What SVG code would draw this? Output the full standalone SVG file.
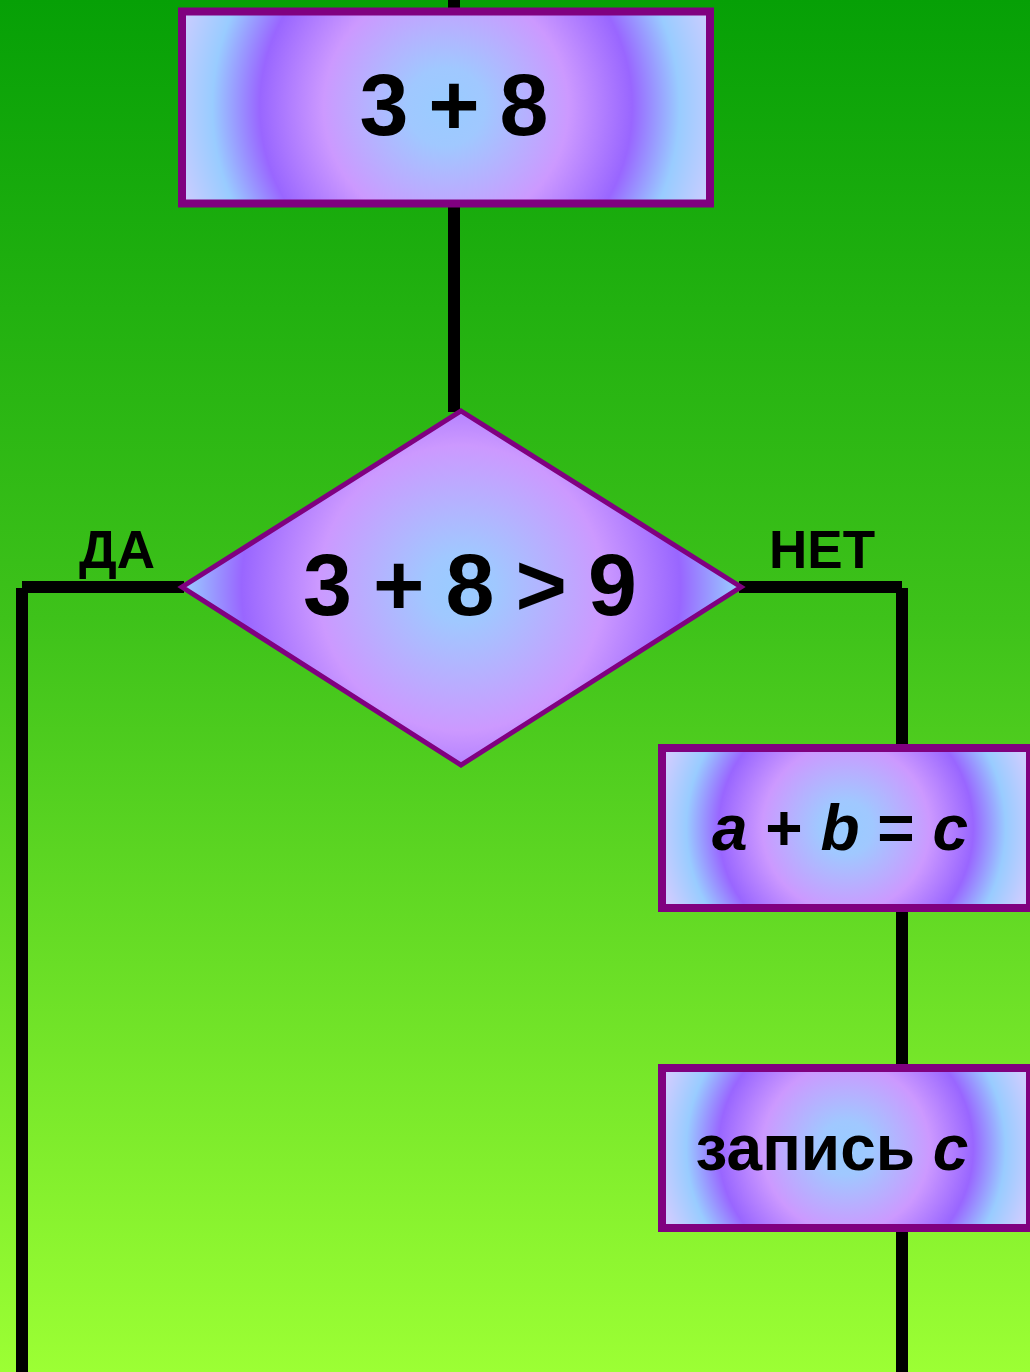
<svg xmlns="http://www.w3.org/2000/svg" xmlns:xlink="http://www.w3.org/1999/xlink" width="1030" height="1372" viewBox="0 0 1030 1372">
  <style>
    .node { stroke: #800080; }
    .box { stroke-width: 8; }
    .rhomb { stroke-width: 5; }
    .wire { stroke: #000; stroke-width: 12; fill: none; }
    .lbl { font-family: "Liberation Sans", Arial, sans-serif; font-weight: bold; fill: #000; text-anchor: middle; }
    .big { font-size: 88px; }
    .mid { font-size: 64px; }
    .tag { font-size: 53px; }
    .it { font-style: italic; }
  </style>
  <defs>
    <linearGradient id="bg" x1="0" y1="0" x2="0" y2="1">
      <stop offset="0" stop-color="#06a006"/>
      <stop offset="0.45" stop-color="#3ec21a"/>
      <stop offset="1" stop-color="#9cff34"/>
    </linearGradient>
    <!-- shared ring pattern for every block -->
    <radialGradient id="rings">
      <stop offset="0" stop-color="#99ccff"/>
      <stop offset="0.14" stop-color="#a0c8ff"/>
      <stop offset="0.44" stop-color="#cc99ff"/>
      <stop offset="0.67" stop-color="#9966ff"/>
      <stop offset="0.84" stop-color="#99ccff"/>
      <stop offset="1" stop-color="#ccccff"/>
    </radialGradient>
    <radialGradient id="gTop" href="#rings" xlink:href="#rings" gradientUnits="userSpaceOnUse" cx="446" cy="107" r="278"/>
    <radialGradient id="gRhomb" gradientUnits="userSpaceOnUse" cx="461" cy="588" r="285">
      <stop offset="0" stop-color="#99ccff"/>
      <stop offset="0.12" stop-color="#a0c8ff"/>
      <stop offset="0.5" stop-color="#cc99ff"/>
      <stop offset="0.77" stop-color="#9966ff"/>
      <stop offset="0.97" stop-color="#99ccff"/>
      <stop offset="1" stop-color="#ccccff"/>
    </radialGradient>
    <radialGradient id="gSum" href="#rings" xlink:href="#rings" gradientUnits="userSpaceOnUse" cx="846" cy="828" r="190"/>
    <radialGradient id="gOut" href="#rings" xlink:href="#rings" gradientUnits="userSpaceOnUse" cx="846" cy="1148" r="190"/>
  </defs>

  <rect x="0" y="0" width="1030" height="1372" fill="url(#bg)"/>

  <g id="connectors">
    <line class="wire" x1="454" y1="-2" x2="454" y2="412"/>
    <line class="wire" x1="22" y1="587" x2="184" y2="587"/>
    <line class="wire" x1="22" y1="588" x2="22" y2="1374"/>
    <line class="wire" x1="739" y1="587" x2="902" y2="587"/>
    <line class="wire" x1="902" y1="588" x2="902" y2="750"/>
    <line class="wire" x1="902" y1="910" x2="902" y2="1070"/>
    <line class="wire" x1="902" y1="1230" x2="902" y2="1374"/>
  </g>

  <g id="sum-start">
    <rect class="node box" x="182" y="11.5" width="528" height="192" fill="url(#gTop)"/>
    <text class="lbl big" x="454" y="135" textLength="189" lengthAdjust="spacing">3 + 8</text>
  </g>

  <g id="check">
    <polygon class="node rhomb" points="461,411 741,587 461,765 182,587" fill="url(#gRhomb)"/>
    <text class="lbl big" x="470" y="615" textLength="334" lengthAdjust="spacing">3 + 8 &gt; 9</text>
  </g>

  <g id="label-yes">
    <text class="lbl tag" x="117" y="568">ДА</text>
  </g>

  <g id="label-no">
    <text class="lbl tag" x="822" y="568">НЕТ</text>
  </g>

  <g id="sum">
    <rect class="node box" x="662" y="748" width="368" height="160" fill="url(#gSum)"/>
    <text class="lbl mid" x="840" y="850"><tspan class="it">a</tspan> + <tspan class="it">b</tspan> = <tspan class="it">c</tspan></text>
  </g>

  <g id="write">
    <rect class="node box" x="662" y="1068" width="368" height="160" fill="url(#gOut)"/>
    <text class="lbl mid" x="832" y="1170">запись <tspan class="it">c</tspan></text>
  </g>
</svg>
